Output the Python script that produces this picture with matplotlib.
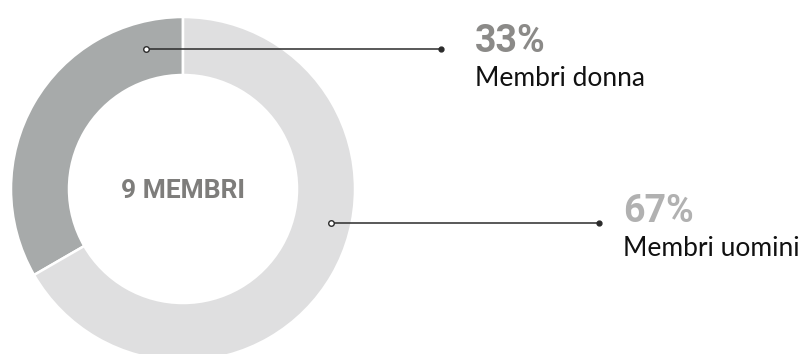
import matplotlib.pyplot as plt

W, H = 803, 354

# membri del consiglio
labels = ["Membri donna", "Membri uomini"]
counts = [3, 6]
pct_labels = ["33%", "67%"]
total_label = "9 MEMBRI"

colors = ["#a7aaaa", "#dfdfe0"]
pct_colors = ["#8b8a88", "#b1b1b1"]


def py(y):
    # pixel row from the top -> axis y
    return H - y


fig = plt.figure(figsize=(W / 100, H / 100), dpi=100)
ax = fig.add_axes([0, 0, 1, 1])

ax.pie(counts, colors=colors, startangle=90, counterclock=True,
       center=(183, py(189)), radius=172,
       wedgeprops=dict(width=58, edgecolor="white", linewidth=1.8))

ax.text(183.5, py(191), total_label, ha="center", va="center",
        fontsize=19, fontweight="bold", family="Roboto", color="#7e7d7b")

# linee di richiamo: (inizio, fine, y) e posizione testi
leaders = [((146, 441), 49, 475, 42, 79),
           ((331, 599), 223, 623, 212, 249)]

for i, ((x0, x1), ly, tx, ty_pct, ty_lab) in enumerate(leaders):
    ax.plot([x0, x1], [py(ly), py(ly)], color="#2b2b2b", lw=1.1,
            solid_capstyle="butt", zorder=3)
    ax.plot(x0, py(ly), marker="o", ms=4, mfc="white", mec="#2b2b2b",
            mew=1, zorder=4)
    ax.plot(x1, py(ly), marker="o", ms=3.5, mfc="#2b2b2b", mec="#2b2b2b",
            zorder=4)
    ax.text(tx, py(ty_pct), pct_labels[i], ha="left", va="center",
            fontsize=27, fontweight="bold", family="Roboto",
            color=pct_colors[i])
    ax.text(tx, py(ty_lab), labels[i], ha="left", va="center",
            fontsize=19, family="Lato", color="#111111")

ax.set_xlim(0, W)
ax.set_ylim(0, H)
ax.set_aspect("equal")
ax.axis("off")

fig.savefig("out.png", dpi=100, facecolor="white")
